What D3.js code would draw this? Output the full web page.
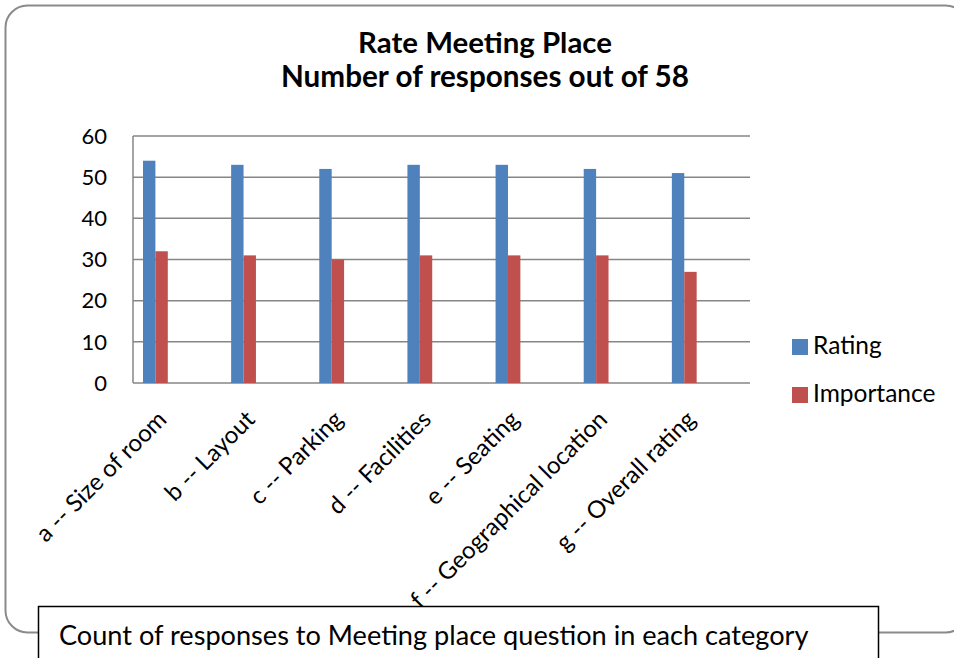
<!DOCTYPE html>
<html>
<head>
<meta charset="utf-8">
<script src="https://cdn.jsdelivr.net/npm/d3@7"></script>
<style>
  body { margin: 0; background: #fff; }
  text { font-family: Lato, "Open Sans", sans-serif; fill: #000; }
</style>
</head>
<body>
<div id="chart"></div>
<script>
// data
const categories = ["a -- Size of room", "b -- Layout", "c -- Parking", "d -- Facilities",
                    "e -- Seating", "f -- Geographical location", "g -- Overall rating"];
const rating = [54, 53, 52, 53, 53, 52, 51];
const importance = [32, 31, 30, 31, 31, 31, 27];
const seriesNames = ["Rating", "Importance"];
const yTicks = [0, 10, 20, 30, 40, 50, 60];

const width = 954, height = 658;
const colors = ["#4F81BD", "#C0504D"];

const svg = d3.select("#chart").append("svg")
    .attr("width", width)
    .attr("height", height);

// outer rounded frame
svg.append("rect")
    .attr("x", 5.5).attr("y", 5.5)
    .attr("width", 962).attr("height", 627)
    .attr("rx", 22)
    .attr("fill", "none")
    .attr("stroke", "#8a8a8a")
    .attr("stroke-width", 2);

// make a text fit a given width by changing its font size
function fitWidth(sel, w) {
  const len = sel.node().getComputedTextLength();
  const fs = parseFloat(sel.attr("font-size"));
  sel.attr("font-size", (fs * w / len).toFixed(2));
}

// title
const t1 = svg.append("text").attr("x", 485).attr("y", 53)
    .attr("text-anchor", "middle").attr("font-weight", "bold").attr("font-size", 24)
    .text("Rate Meeting Place");
fitWidth(t1, 254);
const t2 = svg.append("text").attr("x", 485).attr("y", 87)
    .attr("text-anchor", "middle").attr("font-weight", "bold").attr("font-size", 24)
    .text("Number of responses out of 58");
fitWidth(t2, 408);

const margin = {top: 136, left: 133, right: 204, bottom: 275};

const x = d3.scaleBand()
    .domain(categories)
    .range([margin.left, width - margin.right]);

const y = d3.scaleLinear()
    .domain([0, 60])
    .range([height - margin.bottom, margin.top]);

// gridlines
svg.append("g")
    .selectAll("line")
    .data(yTicks)
    .enter().append("line")
      .attr("x1", margin.left).attr("x2", width - margin.right)
      .attr("y1", d => y(d)).attr("y2", d => y(d))
      .attr("stroke", "#868686")
      .attr("stroke-width", 1.5);

// left axis line
svg.append("line")
    .attr("x1", margin.left).attr("x2", margin.left)
    .attr("y1", y(60)).attr("y2", y(0))
    .attr("stroke", "#868686").attr("stroke-width", 1.5);

// y tick labels
svg.append("g")
    .selectAll("text")
    .data(yTicks)
    .enter().append("text")
      .attr("x", 107)
      .attr("y", d => y(d))
      .attr("dy", "0.35em")
      .attr("text-anchor", "end")
      .attr("font-size", 22)
      .text(d => d);

// bars
const barW = 12.4;
const barOffset = 10;
const series = [rating, importance];

series.forEach(function(vals, s) {
  svg.append("g")
    .selectAll("rect")
    .data(vals)
    .enter().append("rect")
      .attr("x", (d, i) => x(categories[i]) + barOffset + s * barW)
      .attr("y", d => y(d))
      .attr("width", barW)
      .attr("height", d => y(0) - y(d))
      .attr("fill", colors[s]);
});

// x labels, rotated
svg.append("g")
    .selectAll("text")
    .data(categories)
    .enter().append("text")
      .attr("transform", d => `translate(${x(d) + x.bandwidth() / 2 - 9},${y(0) + 38}) rotate(-45)`)
      .attr("text-anchor", "end")
      .attr("font-size", 24)
      .text(d => d);

// legend
const legend = svg.append("g")
    .selectAll("g")
    .data(seriesNames)
    .enter().append("g")
      .attr("transform", (d, i) => `translate(792,${339 + i * 48})`);

legend.append("rect")
    .attr("width", 16).attr("height", 16)
    .attr("fill", (d, i) => colors[i]);

legend.append("text")
    .attr("x", 21).attr("y", 15)
    .attr("font-size", 24.5)
    .text(d => d);

// caption box on top
svg.append("rect")
    .attr("x", 38.5).attr("y", 606.5)
    .attr("width", 840).attr("height", 70)
    .attr("fill", "#fff")
    .attr("stroke", "#000")
    .attr("stroke-width", 1.5);

const cap = svg.append("text")
    .attr("x", 59).attr("y", 645)
    .attr("font-size", 24)
    .text("Count of responses to Meeting place question in each category");
fitWidth(cap, 750);
</script>
</body>
</html>
